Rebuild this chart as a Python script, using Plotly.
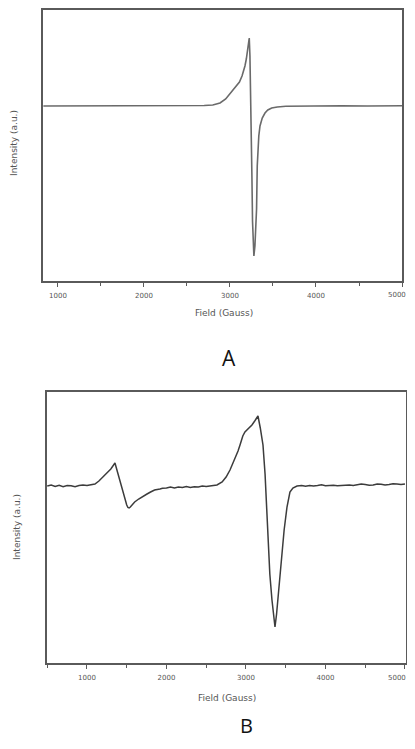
import plotly.graph_objects as go

W, H = 415, 749
OFF = 8  # page body margin
FW, FH = W - 2 * OFF, H - 2 * OFF

# Panel A: EPR spectrum
field_a = [830, 1000, 1300, 1600, 1900, 2200, 2500, 2700, 2800, 2884, 2950, 3000, 3040, 3081,
           3110, 3140, 3160, 3174, 3190, 3200, 3212, 3224, 3232, 3240, 3248, 3255, 3262, 3270,
           3278, 3290, 3300, 3309, 3317, 3325, 3335, 3349, 3375, 3407, 3440, 3485, 3550, 3650,
           3800, 4000, 4300, 4600, 4800, 5000]
intensity_a = [0, 0, 0.3, 0, 0.2, 0, 0.2, 0.5, 1, 3, 7, 12, 16, 20,
               24, 30, 35, 40, 47, 53, 62, 68, 50, 20, -20, -70, -115, -140,
               -150, -140, -122, -103, -60, -40, -30, -20, -12, -7, -4, -2, -1, -0.3,
               0, 0, 0.3, 0, 0.3, 0.2]

# Panel B: EPR spectrum
field_b = [500, 550, 600, 650, 700, 750, 800, 850, 900, 950, 1000, 1050, 1100, 1150, 1200, 1250,
           1300, 1352, 1380, 1420, 1460, 1500, 1515, 1530, 1545, 1570, 1600, 1650, 1700, 1755, 1800,
           1850, 1918, 1950, 2000, 2050, 2100, 2150, 2200, 2250, 2300, 2350, 2400, 2450, 2500, 2560,
           2635, 2700, 2750, 2799, 2850, 2900, 2925, 2960, 2987, 3030, 3075, 3110, 3151, 3180,
           3214, 3240, 3260, 3280, 3300, 3327, 3345, 3365, 3385, 3410, 3430, 3453, 3480,
           3516, 3535, 3553, 3590, 3642, 3700, 3750, 3800, 3850, 3900, 3950, 4000, 4050, 4100,
           4150, 4200, 4250, 4300, 4350, 4400, 4450, 4500, 4550, 4600, 4650, 4700, 4750, 4800,
           4850, 4900, 4950, 5000]
intensity_b = [0, 1, -0.5, 0.8, -0.6, 0.5, 0.2, -0.7, 0.4, 1, 0.6, 1.5, 2, 5, 9, 13,
               17, 23, 15, 2, -10, -19, -21.5, -22, -21, -18.5, -16, -13, -11, -8, -6,
               -4, -3, -2.2, -2, -1, -2, -1, -1.5, -0.5, -1.5, -0.7, -1, 0, -0.5, 0,
               1, 4, 9, 16, 25, 35, 41, 50, 54, 57, 61, 65, 70, 58,
               41, 12, -20, -58, -88, -114, -130, -141, -128, -105, -85, -64, -44,
               -21, -12, -6, -2, 0, 0.5, -0.3, 0.6, 0, 0.5, 1.2, 0.3, 0.9, 0.8,
               0.2, 0.5, 1.4, 1, 0.4, 1.2, 2, 1.5, 0.8, 1, 2, 1.8, 1, 1.5,
               2.2, 2, 1.4, 2]

tick_vals = [1000, 2000, 3000, 4000, 5000]
tick_text = ["1000", "2000", "3000", "4000", "5000"]
# the last label sits on the page edge, so it is drawn as a right-aligned annotation
axis_tick_text = tick_text[:-1] + [""]

fig = go.Figure()
fig.add_trace(go.Scatter(x=field_a, y=intensity_a, mode="lines", xaxis="x", yaxis="y",
                         line=dict(color="#6a6a6a", width=1.6), showlegend=False))
fig.add_trace(go.Scatter(x=field_b, y=intensity_b, mode="lines", xaxis="x2", yaxis="y2",
                         line=dict(color="#3c3c3c", width=1.5), showlegend=False))


def px_x(p):
    return (p - OFF) / FW


def px_y(p):
    return 1 - (p - OFF) / FH


tick_font = dict(family="DejaVu Sans", size=7, color="#555555")
axis_common = dict(showline=True, linecolor="#5a5a5a", linewidth=1.5, mirror=True,
                   showgrid=False, zeroline=False)
xcommon = dict(axis_common, ticks="outside", ticklen=4, tickwidth=1.2, tickcolor="#5a5a5a",
               tickvals=tick_vals, ticktext=axis_tick_text, ticklabelstandoff=3,
               tickfont=tick_font,
               minor=dict(dtick=500, ticks="outside", ticklen=3, tickcolor="#5a5a5a", tickwidth=1))
ycommon = dict(axis_common, showticklabels=False, ticks="")

fig.update_layout(
    width=FW, height=FH, margin=dict(l=0, r=0, t=0, b=0),
    paper_bgcolor="white", plot_bgcolor="white",
    xaxis=dict(xcommon, domain=[px_x(43), px_x(402)], range=[826, 5000], anchor="y"),
    yaxis=dict(ycommon, domain=[px_y(281), px_y(10)], range=[-175, 96], anchor="x"),
    xaxis2=dict(xcommon, domain=[px_x(47), px_x(406)], range=[497, 5013], anchor="y2"),
    yaxis2=dict(ycommon, domain=[px_y(663), px_y(392)], range=[-177, 94], anchor="x2"),
)

title_font = dict(family="DejaVu Sans", size=9, color="#555555")
ann = [
    dict(text="Field (Gauss)", x=px_x(224), y=px_y(313), font=title_font),
    dict(text="Field (Gauss)", x=px_x(227), y=px_y(698), font=title_font),
    dict(text="Intensity (a.u.)", x=px_x(14), y=px_y(143), textangle=-90, font=title_font),
    dict(text="Intensity (a.u.)", x=px_x(17), y=px_y(527), textangle=-90, font=title_font),
    dict(text="A", x=px_x(229), y=px_y(358), font=dict(family="Open Sans", size=21, color="#111111")),
    dict(text="B", x=px_x(246), y=px_y(725), font=dict(family="Open Sans", size=20, color="#111111")),
]
for a in ann:
    fig.add_annotation(xref="paper", yref="paper", showarrow=False,
                       xanchor="center", yanchor="middle", **a)

for ypix in (295, 678):
    fig.add_annotation(xref="paper", yref="paper", showarrow=False, text=tick_text[-1],
                       x=1.0, y=px_y(ypix), xanchor="right", yanchor="middle",
                       font=tick_font, borderpad=0)

fig.write_html("out.html")
